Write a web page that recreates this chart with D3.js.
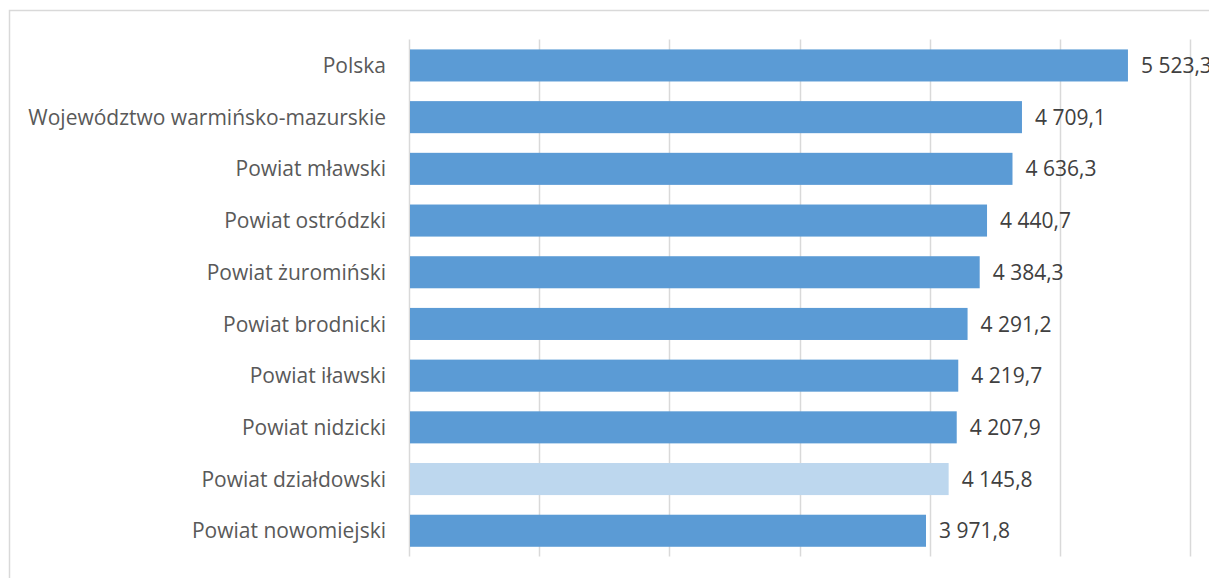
<!DOCTYPE html>
<html>
<head>
<meta charset="utf-8">
<script src="https://cdn.jsdelivr.net/npm/d3@7"></script>
<style>
  body { margin: 0; background: #fff; }
  text { font-family: "Open Sans", sans-serif; }
</style>
</head>
<body>
<div id="chart"></div>
<script>
// Data
const categories = [
  "Polska",
  "Województwo warmińsko-mazurskie",
  "Powiat mławski",
  "Powiat ostródzki",
  "Powiat żuromiński",
  "Powiat brodnicki",
  "Powiat iławski",
  "Powiat nidzicki",
  "Powiat działdowski",
  "Powiat nowomiejski"
];
const values = [5523.3, 4709.1, 4636.3, 4440.7, 4384.3, 4291.2, 4219.7, 4207.9, 4145.8, 3971.8];
const highlighted = ["Powiat działdowski"];
const xTicks = [0, 1000, 2000, 3000, 4000, 5000, 6000];

const W = 1209, H = 578;
const plot = { left: 409, right: 1190, top: 39.6, bottom: 556.6 };

const svg = d3.select("#chart")
  .append("svg")
  .attr("width", W)
  .attr("height", H);

// Chart frame (partly cropped like the reference)
svg.append("rect")
  .attr("x", 9.5)
  .attr("y", 10.5)
  .attr("width", W + 50)
  .attr("height", H + 50)
  .style("fill", "none")
  .style("stroke", "#d9d9d9")
  .style("stroke-width", 1.5);

// Scales
const xScale = d3.scaleLinear()
  .domain([0, 6000])
  .range([plot.left, plot.right]);

const yScale = d3.scaleBand()
  .domain(categories)
  .range([plot.top, plot.bottom])
  .paddingInner(0.38)
  .paddingOuter(0.19);

// Vertical grid lines
svg.selectAll("line.grid")
  .data(xTicks)
  .enter()
  .append("line")
  .attr("class", "grid")
  .attr("x1", d => Math.round(xScale(d)) + 0.5)
  .attr("x2", d => Math.round(xScale(d)) + 0.5)
  .attr("y1", plot.top)
  .attr("y2", plot.bottom)
  .style("stroke", "#d9d9d9")
  .style("stroke-width", 1.5);

// Bars
svg.selectAll("rect.bar")
  .data(categories)
  .enter()
  .append("rect")
  .attr("class", "bar")
  .attr("x", xScale(0) + 1)
  .attr("y", d => yScale(d))
  .attr("width", (d, i) => xScale(values[i]) - xScale(0) - 1)
  .attr("height", yScale.bandwidth())
  .style("fill", d => highlighted.includes(d) ? "#bdd7ee" : "#5b9bd5");

// Category labels
svg.selectAll("text.cat")
  .data(categories)
  .enter()
  .append("text")
  .attr("class", "cat")
  .attr("x", 386)
  .attr("y", d => yScale(d) + yScale.bandwidth() / 2)
  .attr("dy", "0.36em")
  .attr("text-anchor", "end")
  .style("font-size", "21px")
  .style("fill", "#595959")
  .text(d => d);

// Value labels
const fmt = v => d3.format(",.1f")(v).replace(/,/g, " ").replace(".", ",");

svg.selectAll("text.val")
  .data(categories)
  .enter()
  .append("text")
  .attr("class", "val")
  .attr("x", (d, i) => xScale(values[i]) + 13)
  .attr("y", d => yScale(d) + yScale.bandwidth() / 2)
  .attr("dy", "0.36em")
  .style("font-size", "21px")
  .style("fill", "#404040")
  .text((d, i) => fmt(values[i]));
</script>
</body>
</html>
